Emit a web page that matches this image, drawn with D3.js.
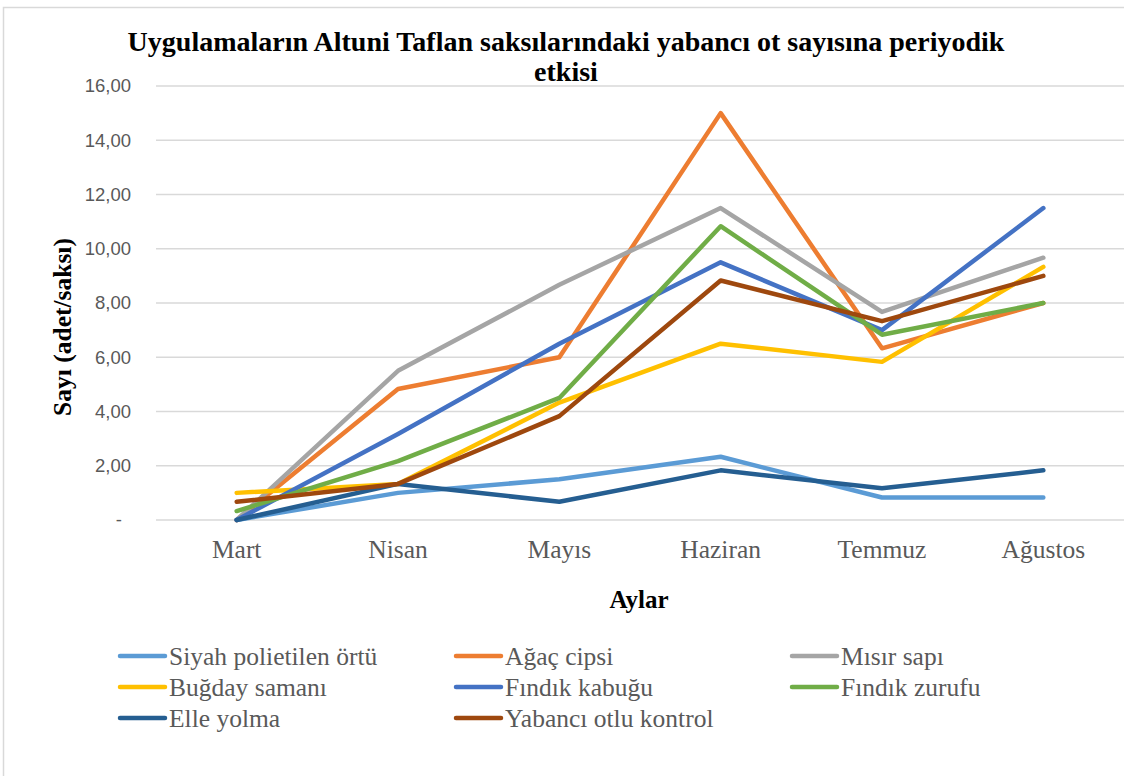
<!DOCTYPE html>
<html>
<head>
<meta charset="utf-8">
<script src="https://cdn.jsdelivr.net/npm/d3@7"></script>
<style>
  body { margin: 0; background: #fff; }
  .tickY text { font-family: "Liberation Sans", Arial, sans-serif; }
  .serif { font-family: "Liberation Serif", "Times New Roman", serif; }
</style>
</head>
<body>
<div id="chart"></div>
<script>
var svgWidth = 1124;
var svgHeight = 776;

// months on the x axis
var months = ["Mart", "Nisan", "Mayıs", "Haziran", "Temmuz", "Ağustos"];

// series names and their values per month
var seriesNames = ["Siyah polietilen örtü", "Ağaç cipsi", "Mısır sapı", "Buğday samanı",
  "Fındık kabuğu", "Fındık zurufu", "Elle yolma", "Yabancı otlu kontrol"];
var siyah   = [0.00, 1.00, 1.50, 2.33, 0.83, 0.83];
var agac    = [0.00, 4.83, 6.00, 15.00, 6.33, 8.00];
var misir   = [0.00, 5.50, 8.67, 11.50, 7.67, 9.67];
var bugday  = [1.00, 1.33, 4.33, 6.50, 5.83, 9.33];
var kabuk   = [0.00, 3.17, 6.50, 9.50, 7.00, 11.50];
var zuruf   = [0.33, 2.17, 4.50, 10.83, 6.83, 8.00];
var elle    = [0.00, 1.33, 0.67, 1.83, 1.17, 1.83];
var kontrol = [0.67, 1.33, 3.83, 8.83, 7.33, 9.00];

var yTicks = [0, 2, 4, 6, 8, 10, 12, 14, 16];
var colors = ["#5B9BD5", "#ED7D31", "#A5A5A5", "#FFC000", "#4472C4", "#70AD47", "#255E91", "#9E480E"];

var seriesValues = [siyah, agac, misir, bugday, kabuk, zuruf, elle, kontrol];
var series = seriesNames.map(function(name, i) {
  return { name: name, color: colors[i], values: seriesValues[i] };
});

var margin = { top: 86, left: 156, right: 1124, bottom: 520 };

var svg = d3.select("#chart")
  .append("svg")
  .attr("width", svgWidth)
  .attr("height", svgHeight);

// chart border
svg.append("rect")
  .attr("x", 3.5).attr("y", 7.5)
  .attr("width", 1200).attr("height", 800)
  .attr("fill", "none")
  .attr("stroke", "#D9D9D9")
  .attr("stroke-width", 1.5);

var xScale = d3.scaleBand()
  .domain(months)
  .range([margin.left, margin.right]);

var yScale = d3.scaleLinear()
  .domain([0, 16])
  .range([margin.bottom, margin.top]);

// gridlines
svg.append("g")
  .selectAll("line")
  .data(yTicks)
  .enter()
  .append("line")
  .attr("x1", margin.left)
  .attr("x2", margin.right)
  .attr("y1", d => yScale(d))
  .attr("y2", d => yScale(d))
  .attr("stroke", "#D9D9D9")
  .attr("stroke-width", 1.5);

// y axis labels
var yAxis = d3.axisLeft(yScale)
  .tickValues(yTicks)
  .tickSize(0)
  .tickPadding(25)
  .tickFormat(d => d === 0 ? "-" : d3.format(".2f")(d).replace(".", ","));

var yg = svg.append("g")
  .attr("class", "tickY")
  .attr("transform", `translate(${margin.left}, 0)`)
  .call(yAxis)
  .attr("font-family", null);
yg.select(".domain").remove();
yg.selectAll("text")
  .attr("fill", "#595959")
  .attr("font-size", 18.5)
  .attr("dx", d => d === 0 ? -9 : 0);

// x axis labels
var xAxis = d3.axisBottom(xScale).tickSize(0).tickPadding(20);
var xg = svg.append("g")
  .attr("transform", `translate(0, ${margin.bottom})`)
  .call(xAxis)
  .attr("font-family", null);
xg.select(".domain").remove();
xg.selectAll("text")
  .attr("class", "serif")
  .attr("fill", "#595959")
  .attr("font-size", 25.5);

// lines
var line = d3.line()
  .x((d, i) => xScale(months[i]) + xScale.bandwidth() / 2)
  .y(d => yScale(d));

svg.append("g")
  .selectAll("path")
  .data(series)
  .enter()
  .append("path")
  .attr("d", d => line(d.values))
  .attr("fill", "none")
  .attr("stroke", d => d.color)
  .attr("stroke-width", 4.5)
  .attr("stroke-linejoin", "round")
  .attr("stroke-linecap", "round");

// title
var title = svg.append("text")
  .attr("class", "serif")
  .attr("text-anchor", "middle")
  .attr("font-weight", "bold")
  .attr("font-size", 28)
  .attr("fill", "#000");
title.append("tspan").attr("x", 566).attr("y", 51)
  .text("Uygulamaların Altuni Taflan saksılarındaki yabancı ot sayısına periyodik");
title.append("tspan").attr("x", 566).attr("y", 81).text("etkisi");

// axis titles
svg.append("text")
  .attr("class", "serif")
  .attr("transform", "translate(71, 327) rotate(-90)")
  .attr("text-anchor", "middle")
  .attr("font-weight", "bold")
  .attr("font-size", 25.5)
  .text("Sayı (adet/saksı)");

svg.append("text")
  .attr("class", "serif")
  .attr("x", 639).attr("y", 608)
  .attr("text-anchor", "middle")
  .attr("font-weight", "bold")
  .attr("font-size", 25)
  .text("Aylar");

// legend
var legendCols = [118, 454, 790];
var legendRows = [656, 687, 718];
var legend = svg.append("g")
  .selectAll("g")
  .data(series)
  .enter()
  .append("g")
  .attr("transform", (d, i) => `translate(${legendCols[i % 3]}, ${legendRows[Math.floor(i / 3)]})`);

legend.append("line")
  .attr("x1", 2).attr("x2", 47)
  .attr("stroke", d => d.color)
  .attr("stroke-width", 4.5)
  .attr("stroke-linecap", "round");

legend.append("text")
  .attr("class", "serif")
  .attr("x", 51)
  .attr("dy", "0.35em")
  .attr("fill", "#595959")
  .attr("font-size", 25.5)
  .text(d => d.name);
</script>
</body>
</html>
